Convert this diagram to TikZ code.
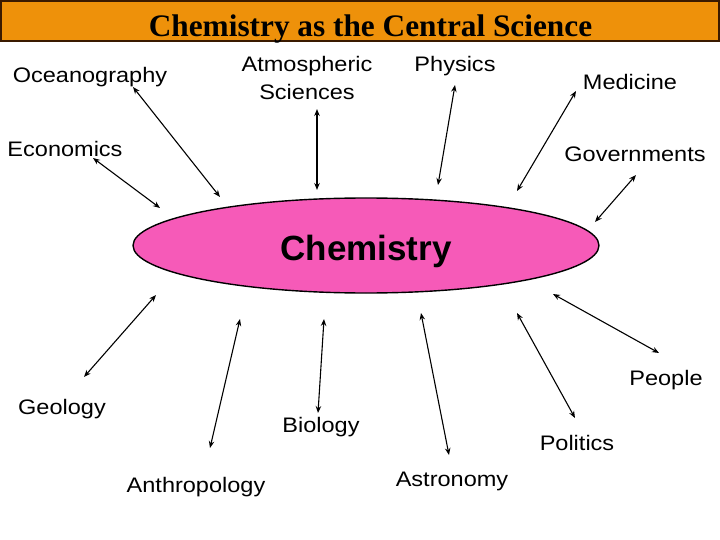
\documentclass[tikz,border=0pt]{standalone}
\usepackage{fontspec}
\setmainfont{Liberation Sans}
\newfontfamily\titlefont{Liberation Serif}
\newfontfamily\fieldfont[FakeStretch=1.12]{Liberation Sans}
\usepackage{tikz}
\usetikzlibrary{arrows.meta,shapes.geometric}
\definecolor{banner}{HTML}{EE910A}
\definecolor{bannerline}{HTML}{3A1A00}
\definecolor{core}{HTML}{F65AB8}

\tikzset{
  field/.style={font=\fieldfont\fontsize{21}{28}\selectfont, align=center, inner sep=0pt, anchor=base},
  link/.style={{Stealth[length=7pt,width=5.5pt]}-{Stealth[length=7pt,width=5.5pt]}, line width=1.1pt}
}

\begin{document}
\begin{tikzpicture}[x=1pt,y=-1pt]
  \useasboundingbox (0,0) rectangle (720,540);
  \draw[fill=banner, draw=bannerline, line width=1.2pt] (1,1) rectangle (719,41);
  \node[font=\titlefont\bfseries\fontsize{31.3}{36}\selectfont, inner sep=0pt, anchor=base] (title) at (370.5,36.5) {Chemistry as the Central Science};
  \node[ellipse, draw, line width=1.4pt, fill=core, minimum width=466pt, minimum height=95pt, inner sep=0pt,
        text height=30pt, text depth=0pt, font=\bfseries\fontsize{35}{40}\selectfont] (chem) at (366,245.5) {Chemistry};
  % fields round the ellipse
  \node[field] (ocean) at (90,83) {Oceanography};
  \node[field] (atmos) at (307,100) {Atmospheric\\Sciences};
  \node[field] (phys) at (455,72) {Physics};
  \node[field] (med) at (630,90) {Medicine};
  \node[field] (econ) at (65,157) {Economics};
  \node[field] (gov) at (635,162) {Governments};
  \node[field] (geo) at (62,414) {Geology};
  \node[field] (bio) at (321,432.5) {Biology};
  \node[field] (anthro) at (196,492.5) {Anthropology};
  \node[field] (astro) at (452,486.5) {Astronomy};
  \node[field] (pol) at (577,450.5) {Politics};
  \node[field] (people) at (666,385) {People};
  % arrow ends
  \coordinate (ocean-a) at (133,87);
  \coordinate (ocean-b) at (220,197);
  \coordinate (econ-a) at (93,158);
  \coordinate (econ-b) at (160,208);
  \coordinate (atmos-a) at (317,109);
  \coordinate (atmos-b) at (317,190);
  \coordinate (phys-a) at (455,85);
  \coordinate (phys-b) at (438,185);
  \coordinate (med-a) at (576,91);
  \coordinate (med-b) at (517,191);
  \coordinate (gov-a) at (636,175);
  \coordinate (gov-b) at (595,222);
  \coordinate (geo-a) at (156,295);
  \coordinate (geo-b) at (84,377);
  \coordinate (anthro-a) at (240,319);
  \coordinate (anthro-b) at (210,448);
  \coordinate (bio-a) at (324,319);
  \coordinate (bio-b) at (318,413);
  \coordinate (astro-a) at (421,313);
  \coordinate (astro-b) at (449,455);
  \coordinate (pol-a) at (517,313);
  \coordinate (pol-b) at (575,418);
  \coordinate (people-a) at (553,294);
  \coordinate (people-b) at (659,353);
  \draw[link] (ocean-a) -- (ocean-b);
  \draw[link] (econ-a) -- (econ-b);
  \draw[link] (atmos-a) -- (atmos-b);
  \draw[link] (phys-a) -- (phys-b);
  \draw[link] (med-a) -- (med-b);
  \draw[link] (gov-a) -- (gov-b);
  \draw[link] (geo-a) -- (geo-b);
  \draw[link] (anthro-a) -- (anthro-b);
  \draw[link] (bio-a) -- (bio-b);
  \draw[link] (astro-a) -- (astro-b);
  \draw[link] (pol-a) -- (pol-b);
  \draw[link] (people-a) -- (people-b);
\end{tikzpicture}
\end{document}
